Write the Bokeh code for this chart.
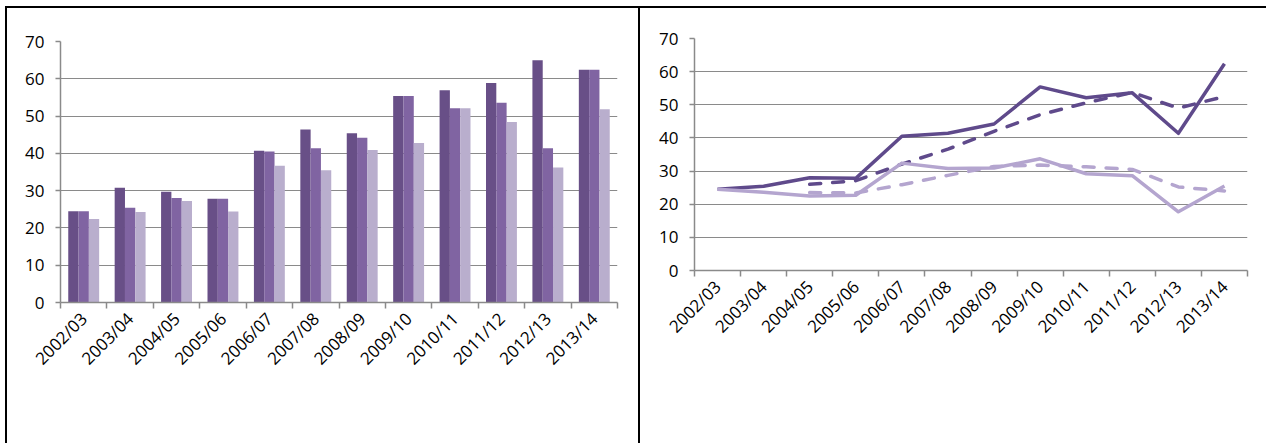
import math

from bokeh.embed import file_html
from bokeh.models import (ColumnDataSource, FixedTicker, Legend, LegendItem,
                          LinearAxis, Range1d)
from bokeh.plotting import figure
from bokeh.resources import INLINE
from bokeh.transform import dodge

# ---- data -------------------------------------------------------------
years = ["2002/03", "2003/04", "2004/05", "2005/06", "2006/07", "2007/08",
         "2008/09", "2009/10", "2010/11", "2011/12", "2012/13", "2013/14"]

budget = [24.5, 30.8, 29.7, 27.8, 40.7, 46.4, 45.4, 55.4, 56.9, 58.9, 65.0, 62.4]
release = [24.5, 25.4, 28.0, 27.8, 40.5, 41.4, 44.2, 55.4, 52.1, 53.6, 41.4, 62.4]
expenditure = [22.4, 24.3, 27.2, 24.4, 36.7, 35.5, 40.9, 42.8, 52.1, 48.4, 36.2, 51.8]

nominal_releases = [24.5, 25.4, 28.0, 27.8, 40.5, 41.4, 44.2, 55.4, 52.1, 53.6, 41.4, 62.4]
real_releases = [24.5, 23.6, 22.5, 22.7, 32.4, 30.8, 30.9, 33.7, 29.2, 28.6, 17.7, 25.5]

ma_years = ["2004/05", "2005/06", "2006/07", "2007/08", "2008/09",
            "2009/10", "2010/11", "2011/12", "2012/13", "2013/14"]
nominal_ma = [26.0, 27.1, 32.1, 36.6, 42.0, 47.0, 50.6, 53.7, 49.0, 52.5]
real_ma = [23.5, 23.4, 25.9, 28.7, 31.4, 31.8, 31.3, 30.5, 25.2, 24.0]

y_ticks = [0, 10, 20, 30, 40, 50, 60, 70]

# category slots: year i occupies [i, i+1] on the x axis
slot = {y: i + 0.5 for i, y in enumerate(years)}
centers = [slot[y] for y in years]
edges_at = list(range(len(years) + 1))

# ---- styling ----------------------------------------------------------
FONT = "Open Sans"
GRID = "#8a8a8a"
C_BUDGET = "#684f87"
C_RELEASE = "#8064a2"
C_EXPEND = "#b9aecd"
C_NOMINAL = "#5f4a8b"
C_REAL = "#b4a5cf"


def make_frame(frame_w, frame_h, left, right, top):
    p = figure(x_range=Range1d(0, len(years)), y_range=Range1d(0, 70),
               frame_width=frame_w, frame_height=frame_h,
               output_backend="svg", toolbar_location=None, x_axis_location=None,
               min_border_left=left, min_border_right=right,
               min_border_top=top, min_border_bottom=0)
    p.outline_line_color = None
    p.background_fill_color = "white"
    p.border_fill_color = "white"
    p.xgrid.grid_line_color = None
    p.ygrid.grid_line_color = GRID
    p.ygrid.grid_line_width = 1.2

    ya = p.yaxis[0]
    ya.ticker = FixedTicker(ticks=y_ticks)
    ya.axis_line_color = GRID
    ya.axis_line_width = 1.5
    ya.major_tick_line_color = GRID
    ya.major_tick_line_width = 1.5
    ya.major_tick_out = 5
    ya.major_tick_in = 0
    ya.minor_tick_line_color = None
    ya.major_label_text_font = FONT
    ya.major_label_text_font_size = "17px"
    ya.major_label_text_color = "#000000"
    ya.major_label_standoff = 11

    # names at the slot centres, tick marks on the slot boundaries
    xa = LinearAxis(ticker=FixedTicker(ticks=centers, minor_ticks=edges_at),
                    major_label_overrides={c: y for c, y in zip(centers, years)})
    xa.axis_line_color = GRID
    xa.axis_line_width = 1.5
    xa.major_tick_line_color = None
    xa.major_tick_out = 6
    xa.major_tick_in = 0
    xa.minor_tick_line_color = GRID
    xa.minor_tick_line_width = 1.5
    xa.minor_tick_out = 6
    xa.minor_tick_in = 0
    xa.major_label_orientation = math.pi / 4
    xa.major_label_text_font = FONT
    xa.major_label_text_font_size = "17px"
    xa.major_label_text_color = "#000000"
    xa.major_label_standoff = 7
    p.add_layout(xa, "below")
    return p


def legend_box(items, location, margin, **kw):
    return Legend(items=items, location=location, padding=0, margin=margin,
                  border_line_color=None, background_fill_alpha=0,
                  label_text_font=FONT, label_text_font_size="16px",
                  label_text_color="#000000", **kw)


# ---- budget / release / expenditure bars -----------------------------
p1 = make_frame(557, 261, 53, 21, 33)
bars = ColumnDataSource(dict(x=[slot[y] for y in years], budget=budget,
                             release=release, expenditure=expenditure))
bw = 0.222
r_b = p1.vbar(x=dodge("x", -bw), top="budget", width=bw,
              source=bars, fill_color=C_BUDGET, line_color=None)
r_r = p1.vbar(x=dodge("x", 0), top="release", width=bw,
              source=bars, fill_color=C_RELEASE, line_color=None)
r_e = p1.vbar(x=dodge("x", bw), top="expenditure", width=bw,
              source=bars, fill_color=C_EXPEND, line_color=None)

lg1 = legend_box([LegendItem(label="budget", renderers=[r_b]),
                  LegendItem(label="release", renderers=[r_r]),
                  LegendItem(label="expenditure", renderers=[r_e])],
                 "top_center", 0, orientation="horizontal",
                 glyph_width=9, glyph_height=9, label_standoff=4, spacing=11)
p1.add_layout(lg1, "below")

# ---- nominal and real releases ---------------------------------------
p2 = make_frame(553, 232, 54, 19, 30)
lines = ColumnDataSource(dict(x=[slot[y] for y in years],
                              nominal=nominal_releases, real=real_releases))
avgs = ColumnDataSource(dict(x=[slot[y] for y in ma_years],
                             nominal=nominal_ma, real=real_ma))

r_nom = p2.line("x", "nominal", source=lines, line_color=C_NOMINAL,
                line_width=3.5, line_join="round")
r_nom_ma = p2.line("x", "nominal", source=avgs, line_color=C_NOMINAL,
                   line_width=3.5, line_dash="11 12", line_cap="round",
                   line_join="round")
r_real = p2.line("x", "real", source=lines, line_color=C_REAL,
                 line_width=3.5, line_join="round")
r_real_ma = p2.line("x", "real", source=avgs, line_color=C_REAL,
                    line_width=3.5, line_dash="11 12", line_cap="round",
                    line_join="round")

lg2 = legend_box([LegendItem(label="nominal releases", renderers=[r_nom]),
                  LegendItem(label="3 year moving average", renderers=[r_nom_ma]),
                  LegendItem(label="real releases", renderers=[r_real]),
                  LegendItem(label="3 year moving average", renderers=[r_real_ma])],
                 "top_center", 0, orientation="horizontal", ncols=2,
                 glyph_width=48, glyph_height=20, label_width=164,
                 label_standoff=6, spacing=14)
p2.add_layout(lg2, "below")

# two framed panels side by side
p1.styles = {"position": "absolute", "left": "5px", "top": "6px",
             "border-left": "2px solid #000000", "border-top": "2px solid #000000"}
p2.styles = {"position": "absolute", "left": "638px", "top": "6px",
             "border-left": "2px solid #000000", "border-top": "2px solid #000000"}

open("out.html", "w").write(file_html([p1, p2], INLINE))
